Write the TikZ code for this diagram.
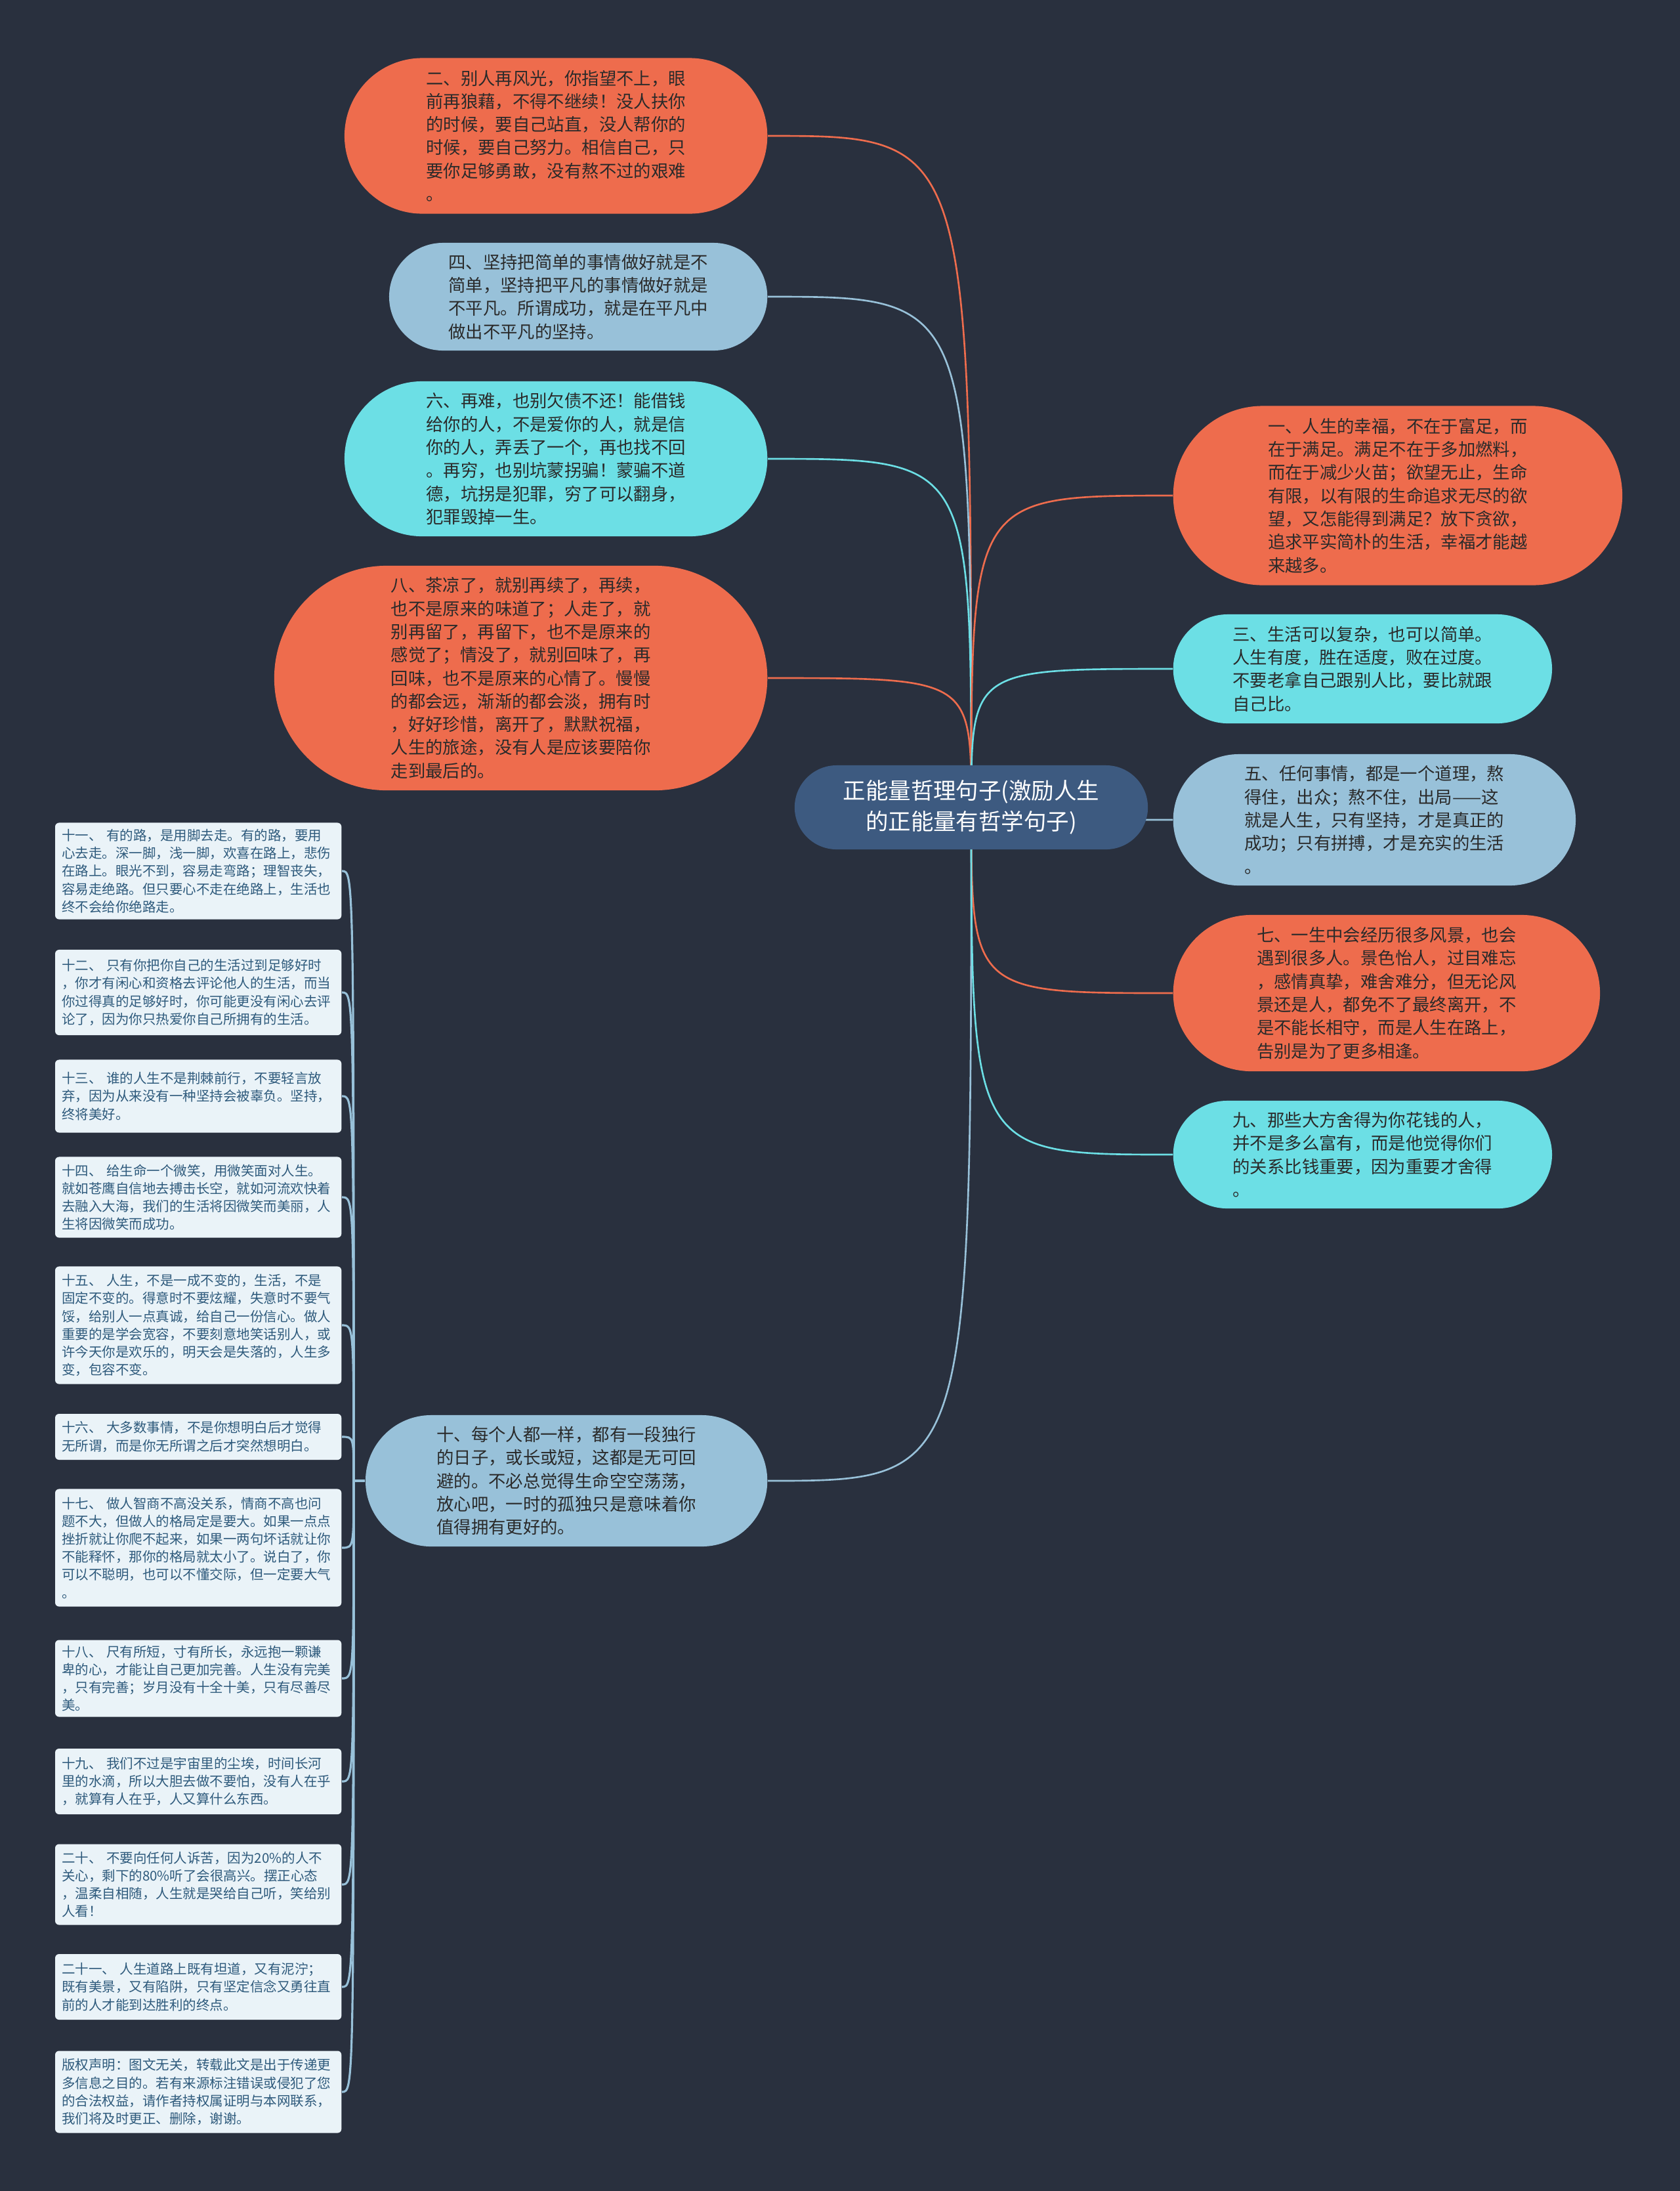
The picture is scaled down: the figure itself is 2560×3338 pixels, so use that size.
\documentclass[tikz,border=0pt]{standalone}
\usepackage{fontspec}
\setmainfont{Noto Sans CJK SC}
\definecolor{bgc}{HTML}{29303E}
\definecolor{orng}{HTML}{EE6C4D}
\definecolor{lblue}{HTML}{98C1D9}
\definecolor{cyanb}{HTML}{6CDFE5}
\definecolor{ctr}{HTML}{3D5A80}
\definecolor{bubtext}{HTML}{2A2A2A}
\definecolor{boxfill}{HTML}{EAF3F8}
\definecolor{boxtext}{HTML}{2E5A7C}
\pgfdeclarelayer{back}
\pgfdeclarelayer{bg}
\pgfsetlayers{back,bg,main}
\tikzset{
  bub/.style={rectangle, align=left, text=bubtext, inner sep=0pt,
    font=\fontsize{7.5pt}{10.04pt}\selectfont},
  lbox/.style={rectangle, rounded corners=0.06cm, fill=boxfill, text=boxtext,
    align=left, text width=4.16cm, inner xsep=0.10cm, inner ysep=0pt,
    anchor=east, font=\fontsize{5.83pt}{7.74pt}\selectfont},
  ed/.style={line width=0.75pt},
  led/.style={line width=0.9pt, draw=lblue},
}
\begin{document}
\begin{tikzpicture}[x=0.01cm, y=-0.01cm]
\begin{pgfonlayer}{back}
\fill[bgc] (0,0) rectangle (2560,3338);
\end{pgfonlayer}
\useasboundingbox (0,0) rectangle (2560,3338);

% center
\node[rectangle, fill=ctr, text=white, align=center, inner sep=0pt,
  minimum width=5.38cm, minimum height=1.28cm, rounded corners=0.64cm,
  font=\fontsize{9.8pt}{13.4pt}\selectfont] (c) at (1480,1230)
  {正能量哲理句子(激励人生\\的正能量有哲学句子)};

% left bubbles
\node[bub, fill=orng, anchor=east, minimum width=6.44cm, minimum height=2.37cm, rounded corners=1.185cm] (n2) at (1170,207)
{二、别人再风光，你指望不上，眼\\前再狼藉，不得不继续！没人扶你\\的时候，要自己站直，没人帮你的\\时候，要自己努力。相信自己，只\\要你足够勇敢，没有熬不过的艰难\\。};
\node[bub, fill=lblue, anchor=east, minimum width=5.76cm, minimum height=1.64cm, rounded corners=0.82cm] (n4) at (1170,452)
{四、坚持把简单的事情做好就是不\\简单，坚持把平凡的事情做好就是\\不平凡。所谓成功，就是在平凡中\\做出不平凡的坚持。};
\node[bub, fill=cyanb, anchor=east, minimum width=6.44cm, minimum height=2.36cm, rounded corners=1.18cm] (n6) at (1170,699)
{六、再难，也别欠债不还！能借钱\\给你的人，不是爱你的人，就是信\\你的人，弄丢了一个，再也找不回\\。再穷，也别坑蒙拐骗！蒙骗不道\\德，坑拐是犯罪，穷了可以翻身，\\犯罪毁掉一生。};
\node[bub, fill=orng, anchor=east, minimum width=7.51cm, minimum height=3.42cm, rounded corners=1.71cm] (n8) at (1170,1033)
{八、茶凉了，就别再续了，再续，\\也不是原来的味道了；人走了，就\\别再留了，再留下，也不是原来的\\感觉了；情没了，就别回味了，再\\回味，也不是原来的心情了。慢慢\\的都会远，渐渐的都会淡，拥有时\\，好好珍惜，离开了，默默祝福，\\人生的旅途，没有人是应该要陪你\\走到最后的。};
\node[bub, fill=lblue, anchor=east, minimum width=6.12cm, minimum height=2.00cm, rounded corners=1.0cm] (n10) at (1170,2256)
{十、每个人都一样，都有一段独行\\的日子，或长或短，这都是无可回\\避的。不必总觉得生命空空荡荡，\\放心吧，一时的孤独只是意味着你\\值得拥有更好的。};

% right bubbles
\node[bub, fill=orng, anchor=west, minimum width=6.84cm, minimum height=2.73cm, rounded corners=1.365cm] (n1) at (1787,755)
{一、人生的幸福，不在于富足，而\\在于满足。满足不在于多加燃料，\\而在于减少火苗；欲望无止，生命\\有限，以有限的生命追求无尽的欲\\望，又怎能得到满足？放下贪欲，\\追求平实简朴的生活，幸福才能越\\来越多。};
\node[bub, fill=cyanb, anchor=west, minimum width=5.77cm, minimum height=1.66cm, rounded corners=0.83cm] (n3) at (1787,1019)
{三、生活可以复杂，也可以简单。\\人生有度，胜在适度，败在过度。\\不要老拿自己跟别人比，要比就跟\\自己比。};
\node[bub, fill=lblue, anchor=west, minimum width=6.13cm, minimum height=2.00cm, rounded corners=1.0cm] (n5) at (1787,1249)
{五、任何事情，都是一个道理，熬\\得住，出众；熬不住，出局——这\\就是人生，只有坚持，才是真正的\\成功；只有拼搏，才是充实的生活\\。};
\node[bub, fill=orng, anchor=west, minimum width=6.50cm, minimum height=2.38cm, rounded corners=1.19cm] (n7) at (1787,1513)
{七、一生中会经历很多风景，也会\\遇到很多人。景色怡人，过目难忘\\，感情真挚，难舍难分，但无论风\\景还是人，都免不了最终离开，不\\是不能长相守，而是人生在路上，\\告别是为了更多相逢。};
\node[bub, fill=cyanb, anchor=west, minimum width=5.77cm, minimum height=1.64cm, rounded corners=0.82cm] (n9) at (1787,1759)
{九、那些大方舍得为你花钱的人，\\并不是多么富有，而是他觉得你们\\的关系比钱重要，因为重要才舍得\\。};

% left boxes
\node[lbox, minimum height=1.47cm] (b11) at (521,1327)
{十一、 有的路，是用脚去走。有的路，要用\\心去走。深一脚，浅一脚，欢喜在路上，悲伤\\在路上。眼光不到，容易走弯路；理智丧失，\\容易走绝路。但只要心不走在绝路上，生活也\\终不会给你绝路走。};
\node[lbox, minimum height=1.30cm] (b12) at (521,1512)
{十二、 只有你把你自己的生活过到足够好时\\，你才有闲心和资格去评论他人的生活，而当\\你过得真的足够好时，你可能更没有闲心去评\\论了，因为你只热爱你自己所拥有的生活。};
\node[lbox, minimum height=1.11cm] (b13) at (521,1670)
{十三、 谁的人生不是荆棘前行，不要轻言放\\弃，因为从来没有一种坚持会被辜负。坚持，\\终将美好。};
\node[lbox, minimum height=1.23cm] (b14) at (521,1824)
{十四、 给生命一个微笑，用微笑面对人生。\\就如苍鹰自信地去搏击长空，就如河流欢快着\\去融入大海，我们的生活将因微笑而美丽，人\\生将因微笑而成功。};
\node[lbox, minimum height=1.79cm] (b15) at (521,2019)
{十五、 人生，不是一成不变的，生活，不是\\固定不变的。得意时不要炫耀，失意时不要气\\馁，给别人一点真诚，给自己一份信心。做人\\重要的是学会宽容，不要刻意地笑话别人，或\\许今天你是欢乐的，明天会是失落的，人生多\\变，包容不变。};
\node[lbox, minimum height=0.70cm] (b16) at (521,2189)
{十六、 大多数事情，不是你想明白后才觉得\\无所谓，而是你无所谓之后才突然想明白。};
\node[lbox, minimum height=1.79cm] (b17) at (521,2358)
{十七、 做人智商不高没关系，情商不高也问\\题不大，但做人的格局定是要大。如果一点点\\挫折就让你爬不起来，如果一两句坏话就让你\\不能释怀，那你的格局就太小了。说白了，你\\可以不聪明，也可以不懂交际，但一定要大气\\。};
\node[lbox, minimum height=1.17cm] (b18) at (521,2557)
{十八、 尺有所短，寸有所长，永远抱一颗谦\\卑的心，才能让自己更加完善。人生没有完美\\，只有完善；岁月没有十全十美，只有尽善尽\\美。};
\node[lbox, minimum height=1.00cm] (b19) at (521,2714)
{十九、 我们不过是宇宙里的尘埃，时间长河\\里的水滴，所以大胆去做不要怕，没有人在乎\\，就算有人在乎，人又算什么东西。};
\node[lbox, minimum height=1.23cm] (b20) at (521,2871)
{二十、 不要向任何人诉苦，因为20\%的人不\\关心，剩下的80\%听了会很高兴。摆正心态\\，温柔自相随，人生就是哭给自己听，笑给别\\人看！};
\node[lbox, minimum height=1.00cm] (b21) at (521,3027)
{二十一、 人生道路上既有坦道，又有泥泞；\\既有美景，又有陷阱，只有坚定信念又勇往直\\前的人才能到达胜利的终点。};
\node[lbox, minimum height=1.25cm] (bcp) at (521,3187)
{版权声明：图文无关，转载此文是出于传递更\\多信息之目的。若有来源标注错误或侵犯了您\\的合法权益，请作者持权属证明与本网联系，\\我们将及时更正、删除，谢谢。};

\coordinate (J) at (539,2256);

\begin{pgfonlayer}{bg}
\foreach \n/\col in {n2/orng,n4/lblue,n6/cyanb,n8/orng,n10/lblue}{
  \draw[ed, draw=\col] (c.center) .. controls (c.center |- \n.east) .. (\n.east);
}
\foreach \n/\col in {n1/orng,n3/cyanb,n5/lblue,n7/orng,n9/cyanb}{
  \draw[ed, draw=\col] (c.center) .. controls (c.center |- \n.west) .. (\n.west);
}
\draw[led] (n10.west) -- (J);
\foreach \b in {b11,b12,b13,b14,b15,b16,b17,b18,b19,b20,b21,bcp}{
  \draw[led] (J) .. controls (J |- \b.east) .. (\b.east);
}
\end{pgfonlayer}
\end{tikzpicture}
\end{document}
